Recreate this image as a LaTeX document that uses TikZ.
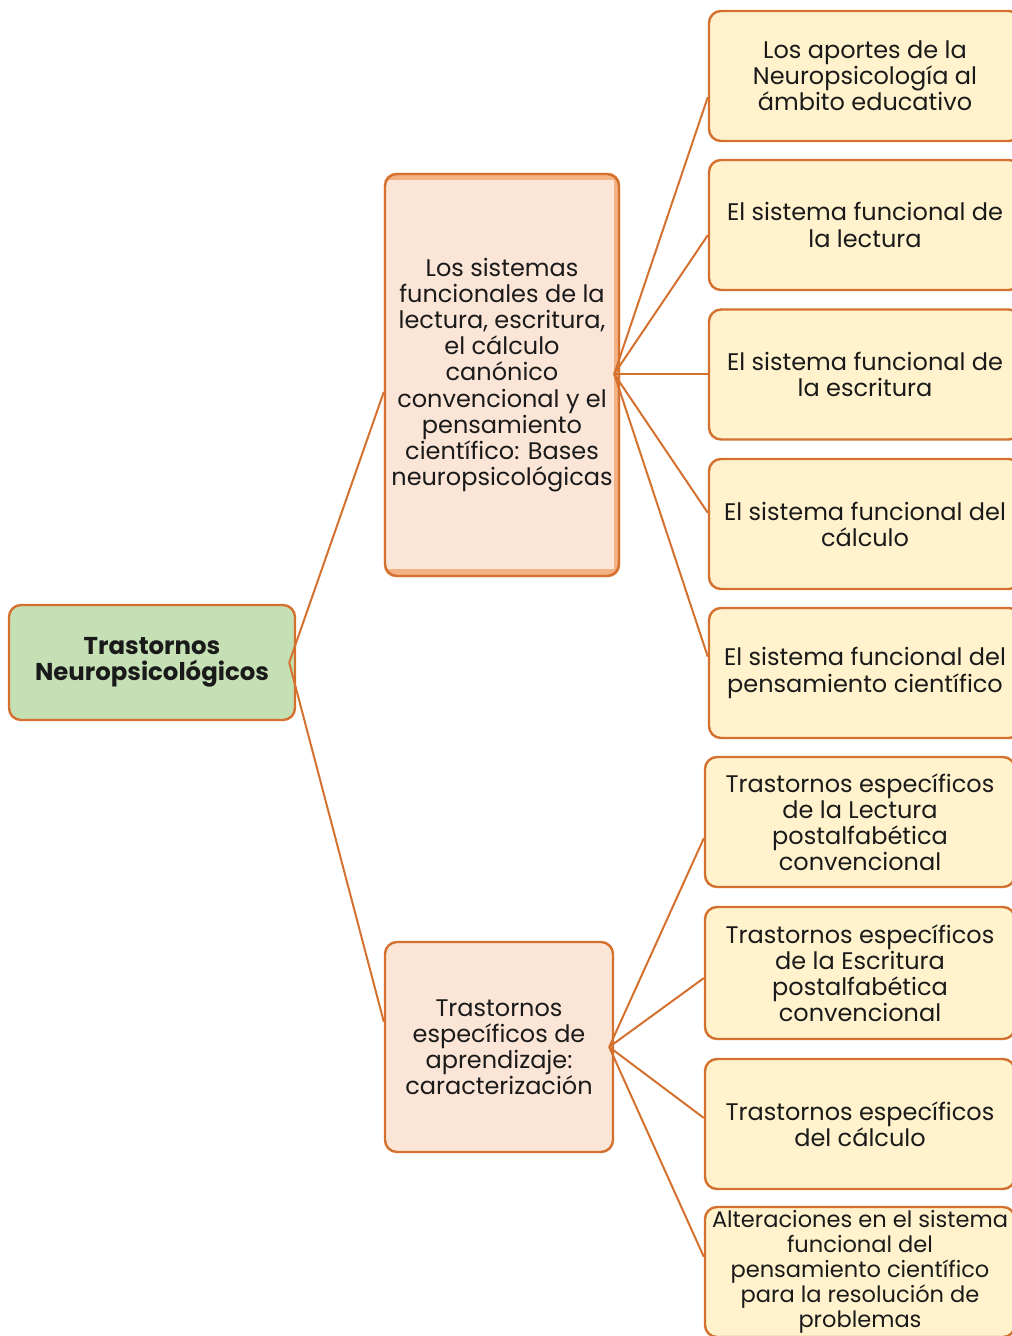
\documentclass[tikz,border=0pt]{standalone}
\usepackage{fontspec}
\setmainfont{Poppins}
\usetikzlibrary{positioning,calc,backgrounds}
\definecolor{tnorange}{HTML}{D4712F}
\definecolor{tngreen}{HTML}{C5E0B4}
\definecolor{tnpink}{HTML}{FBE5D6}
\definecolor{tnshade}{HTML}{F4B183}
\definecolor{tnyellow}{HTML}{FFF2CC}
\definecolor{tntext}{HTML}{1A1A1A}
\tikzset{
  tnbox/.style    = {draw=tnorange, line width=1.8pt, rounded corners=9pt,
                     align=center, text=tntext, inner sep=2pt,
                     font=\fontsize{18}{19.6}\selectfont},
  rootbox/.style  = {tnbox, fill=tngreen, minimum width=214.5pt,
                     minimum height=86.25pt,
                     font=\fontsize{18.3}{19.8}\selectfont\bfseries},
  midbox/.style   = {tnbox, fill=tnpink},
  leafbox/.style  = {tnbox, fill=tnyellow, minimum height=97.5pt},
  leafup/.style   = {leafbox, minimum width=234pt},
  leaflow/.style  = {leafbox, minimum width=232.5pt},
  tnlink/.style   = {draw=tnorange, line width=1.5pt},
}
\begin{document}
\begin{tikzpicture}[x=0.75pt,y=-0.75pt]
  \clip (0,0) rectangle (1012,1336);

  % ---------- root ------------------------------------------------------
  \node[rootbox] (root) at (152,662.5) {Trastornos\\ Neuropsicológicos};

  % ---------- second level ---------------------------------------------
  \node[midbox, fill=none, minimum width=175.5pt, minimum height=301.5pt]
    (bases) at (502,375)
    {Los sistemas\\ funcionales de la\\ lectura, escritura,\\ el cálculo\\
     canónico\\ convencional y el\\ pensamiento\\ científico: Bases\\
     neuropsicológicas};
  \begin{scope}[on background layer]
    \fill[tnshade, rounded corners=9pt] (bases.south west) rectangle (bases.north east);
    \clip[rounded corners=9pt] (bases.south west) rectangle (bases.north east);
    \fill[tnpink] ([yshift=-5.25pt]bases.north west)
      rectangle ([xshift=-4.5pt,yshift=6pt]bases.south east);
  \end{scope}
  \node[midbox, minimum width=171pt, minimum height=157.5pt]
    (trast) at (499,1047)
    {Trastornos\\ específicos de\\ aprendizaje:\\ caracterización};

  % ---------- leaves: bases ---------------------------------------------
  \node[leafup] (aportes)  at (865,76)
    {Los aportes de la\\ Neuropsicología al\\ ámbito educativo};
  \node[leafup] (lectura)  at (865,225)
    {El sistema funcional de\\ la lectura};
  \node[leafup] (escrit)   at (865,374.5)
    {El sistema funcional de\\ la escritura};
  \node[leafup] (calculo)  at (865,524)
    {El sistema funcional del\\ cálculo};
  \node[leafup] (pensam)   at (865,673)
    {El sistema funcional del\\ pensamiento científico};

  % ---------- leaves: trastornos ----------------------------------------
  \node[leaflow] (tlect)   at (860,822)
    {Trastornos específicos\\ de la Lectura\\ postalfabética\\ convencional};
  \node[leaflow, minimum height=99pt] (tescr) at (860,973)
    {Trastornos específicos\\ de la Escritura\\ postalfabética\\ convencional};
  \node[leaflow] (tcalc)   at (860,1124)
    {Trastornos específicos\\ del cálculo};
  \node[leaflow, font=\fontsize{16.9}{18.75}\selectfont] (talt) at (860,1272)
    {Alteraciones en el sistema\\ funcional del\\ pensamiento científico\\
     para la resolución de\\ problemas};

  % hubs where the connectors meet
  \coordinate (rootHub)  at ([xshift=-5.25pt]root.east);
  \coordinate (basesHub) at ([xshift=-4.5pt,yshift=0.75pt]bases.east);
  \coordinate (trastHub) at ([xshift=-3.75pt]trast.east);

  % ---------- connectors -------------------------------------------------
  \draw[tnlink] (rootHub) -- ($(bases.north west)!0.542!(bases.south west)$);
  \draw[tnlink] (rootHub) -- ($(trast.north west)!0.381!(trast.south west)$);

  \draw[tnlink] (basesHub) -- ($(aportes.north west)!0.66!(aportes.south west)$);
  \draw[tnlink] (basesHub) -- ($(lectura.north west)!0.577!(lectura.south west)$);
  \draw[tnlink] (basesHub) -- (basesHub -| escrit.west);
  \draw[tnlink] (basesHub) -- ($(calculo.north west)!0.415!(calculo.south west)$);
  \draw[tnlink] (basesHub) -- ($(pensam.north west)!0.377!(pensam.south west)$);

  \draw[tnlink] (trastHub) -- ($(tlect.north west)!0.623!(tlect.south west)$);
  \draw[tnlink] (trastHub) -- ($(tescr.north west)!0.538!(tescr.south west)$);
  \draw[tnlink] (trastHub) -- ($(tcalc.north west)!0.454!(tcalc.south west)$);
  \draw[tnlink] (trastHub) -- ($(talt.north west)!0.385!(talt.south west)$);

\end{tikzpicture}
\end{document}
